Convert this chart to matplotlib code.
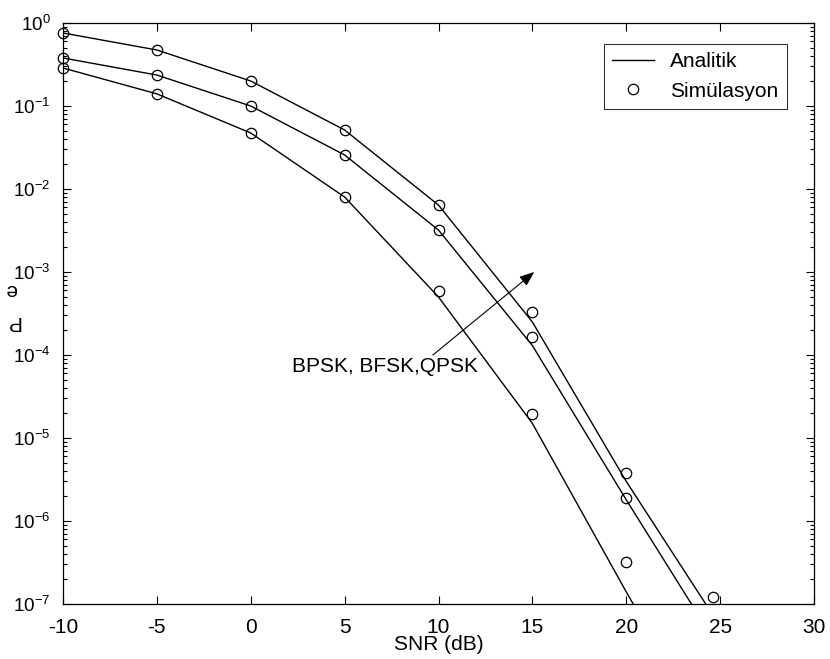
import matplotlib
matplotlib.use("Agg")
import matplotlib.pyplot as plt
from matplotlib.ticker import LogLocator, NullFormatter

plt.rcParams['font.family'] = ['Liberation Sans', 'DejaVu Sans']
plt.rcParams['mathtext.fontset'] = 'custom'
plt.rcParams['mathtext.rm'] = 'Liberation Sans'
plt.rcParams['mathtext.default'] = 'regular'

# Analytic curves
snr_an = [-10, -5, 0, 5, 10, 15, 20, 25]
an_top = [0.758, 0.473, 0.200, 0.0514, 0.0064, 2.5e-4, 3.0e-6, 5.4e-8]
an_mid = [0.379, 0.236, 0.100, 0.0257, 0.0032, 1.3e-4, 1.8e-6, 2.8e-8]
an_bot = [0.287, 0.140, 0.0473, 0.0080, 5.0e-4, 1.5e-5, 1.4e-7, 1.5e-9]

# Simulation points
snr_sim = [-10, -5, 0, 5, 10, 15, 20]
sim_top = [0.758, 0.473, 0.200, 0.0514, 0.0064, 3.3e-4, 3.8e-6]
sim_mid = [0.379, 0.236, 0.100, 0.0257, 0.0032, 1.65e-4, 1.9e-6]
sim_bot = [0.287, 0.140, 0.0473, 0.0080, 5.9e-4, 1.95e-5, 3.2e-7]
snr_extra = [24.6]
sim_extra = [1.2e-7]

xticks = [-10, -5, 0, 5, 10, 15, 20, 25, 30]

FS = 15

fig = plt.figure(figsize=(8.30, 6.59), dpi=100)
ax = fig.add_axes([63/830, 1-604/659, (814-63)/830, (604-23)/659])

lw = 1.0
ax.semilogy(snr_an, an_top, '-', color='k', lw=lw, label='Analitik')
ax.semilogy(snr_an, an_mid, '-', color='k', lw=lw)
ax.semilogy(snr_an, an_bot, '-', color='k', lw=lw)
ms = 7.5
for ys in (sim_top, sim_mid, sim_bot):
    ax.semilogy(snr_sim, ys, 'o', mfc='none', mec='k', mew=0.9, ms=ms, clip_on=False)
ax.semilogy(snr_extra, sim_extra, 'o', mfc='none', mec='k', mew=0.9, ms=ms, clip_on=False,
            label='Simülasyon')

ax.set_xlim(-10, 30)
ax.set_ylim(1e-7, 1)
ax.set_xticks(xticks)
ax.set_xticklabels([str(t) for t in xticks])
ax.yaxis.set_major_locator(LogLocator(base=10, numticks=20))
ax.yaxis.set_minor_locator(LogLocator(base=10, subs=range(2, 10), numticks=20))
ax.yaxis.set_minor_formatter(NullFormatter())

ax.tick_params(which='both', direction='in', top=True, right=True, colors='k')
ax.tick_params(which='major', length=6, width=0.8)
ax.tick_params(which='minor', length=3, width=0.8)
ax.tick_params(axis='x', pad=10, labelsize=FS)
ax.tick_params(axis='y', pad=9, labelsize=13.5)
for s in ax.spines.values():
    s.set_linewidth(0.9)

ax.set_xlabel('SNR (dB)', fontsize=FS, labelpad=-1)

# upside-down y label as in the original
fig.text(11/830, 1-290/659, 'e', rotation=180, fontsize=FS, ha='center', va='center')
fig.text(13/830, 1-321/659, 'P', rotation=180, fontsize=FS, ha='center', va='center')

ax.annotate('', xy=(15.1, 1e-3), xytext=(9.7, 1e-4),
            arrowprops=dict(arrowstyle='-|>,head_length=0.9,head_width=0.35', color='k', lw=0.8,
                            shrinkA=0, shrinkB=0))
ax.text(2.2, 10**-4.14, 'BPSK, BFSK,QPSK', fontsize=FS, ha='left', va='center')

leg = ax.legend(loc='upper right', bbox_to_anchor=(787/830, 1-44/659), bbox_transform=fig.transFigure,
                fontsize=FS, frameon=True, fancybox=False, edgecolor='k', handlelength=2.0,
                borderaxespad=0, labelspacing=0.5)
leg.get_frame().set_linewidth(0.8)

fig.savefig('out.png', dpi=100)
